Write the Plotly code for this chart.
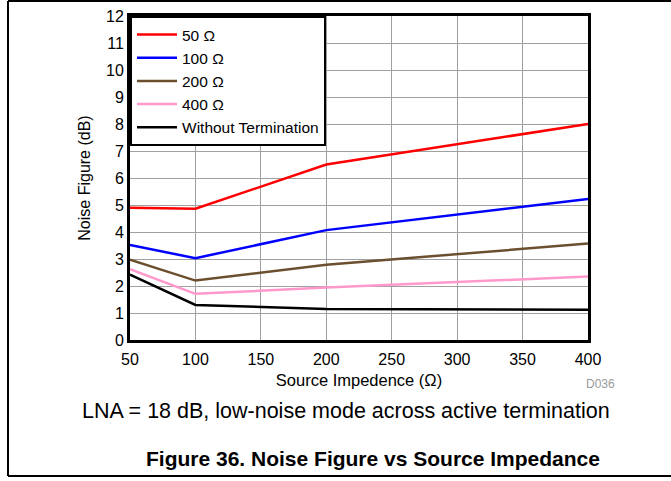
import plotly.graph_objects as go

# source impedance points (ohm)
source_z = [50, 100, 200, 400]

nf_50 = [4.9, 4.86, 6.5, 8.0]
nf_100 = [3.52, 3.03, 4.07, 5.22]
nf_200 = [2.97, 2.2, 2.79, 3.57]
nf_400 = [2.62, 1.71, 1.94, 2.35]
nf_none = [2.42, 1.3, 1.15, 1.12]

series = [
    ("50 Ω", nf_50, "#ff0000"),
    ("100 Ω", nf_100, "#0000ff"),
    ("200 Ω", nf_200, "#6b4f2e"),
    ("400 Ω", nf_400, "#ff99cc"),
    ("Without Termination", nf_none, "#000000"),
]

FONT = "Arial, Liberation Sans, sans-serif"

fig = go.Figure()
for name, vals, col in series:
    fig.add_trace(go.Scatter(x=source_z, y=vals, mode="lines", name=name,
                             line=dict(color=col, width=2.5)))

# plot area in pixels: x 130..588, y 16..340
L, R, T, B = 130, 588, 16, 340
W, H = 671, 481
pw, ph = R - L, B - T


def px(x):
    return (x - L) / pw


def py(y):
    return (B - y) / ph


fig.update_layout(
    width=W, height=H,
    margin=dict(l=L, r=W - R, t=T, b=H - B, autoexpand=False),
    paper_bgcolor="white", plot_bgcolor="white",
    font=dict(family=FONT, size=16, color="black"),
    showlegend=True,
    legend=dict(x=0, y=1, xanchor="left", yanchor="top",
                bordercolor="black", borderwidth=2, bgcolor="white",
                font=dict(size=15.5), tracegroupgap=0, itemwidth=40),
    xaxis=dict(range=[50, 400], dtick=50, tick0=50,
               showgrid=True, gridcolor="#a0a0a0", gridwidth=1,
               showline=True, linecolor="black", linewidth=3, mirror=True,
               ticks="", zeroline=False, tickfont=dict(size=16),
               ticklabelstandoff=3,
               title=dict(text="Source Impedence (Ω)", standoff=8,
                          font=dict(size=16.5))),
    yaxis=dict(range=[0, 12], dtick=1,
               showgrid=True, gridcolor="#a0a0a0", gridwidth=1,
               showline=True, linecolor="black", linewidth=3, mirror=True,
               ticks="", zeroline=False, tickfont=dict(size=16),
               title=dict(text="Noise Figure (dB)", standoff=12,
                          font=dict(size=16))),
)

# outer frame (left, top, bottom)
for x0, y0, x1, y1 in [(8, 1, 8, 476), (8, 1, 671, 1), (8, 476, 671, 476)]:
    fig.add_shape(type="line", xref="paper", yref="paper",
                  x0=px(x0), y0=py(y0), x1=px(x1), y1=py(y1),
                  line=dict(color="black", width=2))

fig.add_annotation(text="D036", xref="paper", yref="paper",
                   x=px(600), y=py(384), xanchor="center", yanchor="middle",
                   showarrow=False, font=dict(size=12, color="#999999"))
fig.add_annotation(text="LNA = 18 dB, low-noise mode across active termination",
                   xref="paper", yref="paper", x=px(346), y=py(411),
                   xanchor="center", yanchor="middle",
                   showarrow=False, font=dict(size=21.5))
fig.add_annotation(text="<b>Figure 36. Noise Figure vs Source Impedance</b>",
                   xref="paper", yref="paper", x=px(373), y=py(458),
                   xanchor="center", yanchor="middle",
                   showarrow=False, font=dict(size=21))

fig.write_html("out.html", config={"displayModeBar": False},
               post_script="document.body.style.margin='0';")
